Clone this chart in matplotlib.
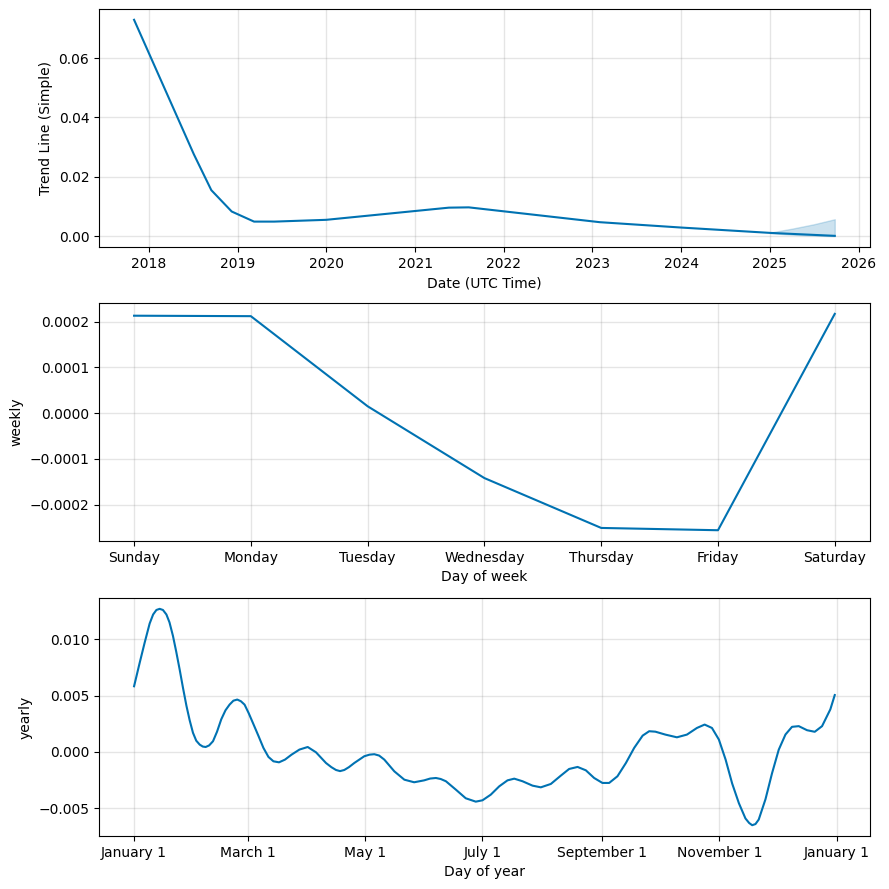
import pandas as pd
import numpy as np
import matplotlib
matplotlib.use("Agg")
import matplotlib.pyplot as plt
import matplotlib.dates as mdates
from matplotlib.ticker import FuncFormatter

# trend component
trend_dates = ["2017-11-01", "2018-07-05", "2018-09-15", "2018-12-08", "2019-03-10",
               "2019-06-01", "2020-01-01", "2021-05-20", "2021-08-10", "2023-02-01",
               "2024-01-01", "2025-01-01", "2025-09-25"]
trend_vals = [0.0729, 0.0276, 0.0155, 0.0083, 0.0049,
              0.0049, 0.0055, 0.0096, 0.0097, 0.0047,
              0.0029, 0.0011, 0.0001]

band_dates = ["2025-01-01", "2025-04-01", "2025-07-01", "2025-09-25"]
band_upper = [0.0012, 0.0025, 0.0040, 0.0057]
band_lower = [0.0010, 0.0005, 0.0002, 0.0000]

# weekly component
week_days = ["Sunday", "Monday", "Tuesday", "Wednesday", "Thursday", "Friday", "Saturday"]
weekly_vals = [0.000213, 0.000212, 0.0000150, -0.000142, -0.000251, -0.000256, 0.000217]

# yearly component, day offset from Jan 1
year_days = [0, 2.9, 5.5, 8.1, 9.9, 11.6, 13.3, 15.0, 16.8, 18.4, 20.2, 21.9, 23.7, 25.4,
             27.2, 28.9, 30.6, 32.3, 34.1, 35.7, 37.2, 39.0, 41.0, 43.1, 45.3, 47.5, 49.6,
             51.6, 53.6, 55.5, 57.4, 59.5, 62.1, 64.7, 67.2, 69.8, 72.4, 75.3, 78.4, 81.8,
             85.9, 90.2, 94.5, 99.7, 102.5, 104.9, 107.0, 109.2, 111.6, 114.4, 119.6,
             122.3, 124.8, 127.3, 130, 135.2, 140.4, 145.5, 150.7, 153.8, 156.8, 159.3, 162,
             167.2, 172.3, 177.5, 181,
             185.3, 189.7, 194, 197.5, 201.8, 207, 211.3, 216.5, 221.7, 226, 230.4, 234.7,
             239, 243.3, 246.8, 251.1, 255.5, 259.8, 264.2, 267.6, 270.8, 276, 282, 287.2,
             292.4, 296.4, 300.2, 303.8, 307.3, 310.7, 314.2, 317.6, 319.5, 321.1, 322.8,
             324.5, 328, 331.4, 334.9, 338.4, 341.8, 345.3, 349.6, 353.6, 357.4, 361.7, 364]
yearly_vals = [0.00583, 0.0079, 0.0097, 0.0114, 0.0122, 0.0126, 0.0127, 0.0126, 0.0122,
               0.0115, 0.0103, 0.0089, 0.0073, 0.0057, 0.0041, 0.0028, 0.0017, 0.0010,
               0.00065, 0.00048, 0.00044, 0.00058, 0.00095, 0.0018, 0.0029, 0.0037, 0.0042,
               0.00455, 0.00465, 0.00450, 0.0042, 0.00346, 0.00243, 0.00139, 0.00036,
               -0.00044, -0.00083, -0.00092, -0.00068, -0.00024, 0.00021, 0.00044, -0.00003,
               -0.00098, -0.00135, -0.00160, -0.00170, -0.00160, -0.00135, -0.00098,
               -0.00038, -0.00024, -0.00020, -0.00032, -0.00068, -0.00172, -0.00246,
               -0.00269, -0.00252, -0.00236, -0.00231, -0.00240, -0.0026, -0.00335, -0.00411,
               -0.00441, -0.00429,
               -0.00379, -0.00305, -0.00252, -0.00237, -0.0026, -0.00299, -0.00314, -0.00284,
               -0.0021, -0.00151, -0.00133, -0.00163, -0.00231, -0.00275, -0.00275, -0.00216,
               -0.00098, 0.00036, 0.00145, 0.00184, 0.0018, 0.00154, 0.0013, 0.00154, 0.00213,
               0.00243, 0.00213, 0.0011, -0.00068, -0.0028, -0.00455, -0.0059, -0.0063,
               -0.0065, -0.0064, -0.0060, -0.0042, -0.0019, 0.0002, 0.00155, 0.00223,
               0.00229, 0.00193, 0.00179, 0.00229, 0.00378, 0.00505]

col = "#0072B2"
fig = plt.figure(figsize=(8.89, 8.89), dpi=100)
ax1 = fig.add_axes([0.1114, 0.7222, 0.867, 0.2677])
ax2 = fig.add_axes([0.1114, 0.3914, 0.867, 0.2677])
ax3 = fig.add_axes([0.1114, 0.0596, 0.867, 0.2677])

def grid(ax):
    ax.grid(True, which="major", c="gray", ls="-", lw=1, alpha=0.2)

# trend
td = pd.to_datetime(trend_dates)
ax1.plot(td, trend_vals, ls="-", c=col)
ax1.fill_between(pd.to_datetime(band_dates), band_lower, band_upper, color=col, alpha=0.2)
ax1.xaxis.set_major_locator(mdates.YearLocator())
ax1.xaxis.set_major_formatter(mdates.DateFormatter("%Y"))
grid(ax1)
ax1.set_xlabel("Date (UTC Time)")
ax1.set_ylabel("Trend Line (Simple)")

# weekly
ax2.plot(range(len(week_days)), weekly_vals, ls="-", c=col)
ax2.set_xticks(range(len(week_days)))
ax2.set_xticklabels(week_days)
grid(ax2)
ax2.set_xlabel("Day of week")
ax2.set_ylabel("weekly")

# yearly
yd = pd.Timestamp("2017-01-01") + pd.to_timedelta(year_days, unit="D")
ax3.plot(yd, yearly_vals, ls="-", c=col)
ax3.xaxis.set_major_locator(mdates.MonthLocator(bymonth=range(1, 13, 2)))
ax3.xaxis.set_major_formatter(FuncFormatter(
    lambda x, pos: "{dt:%B} {dt.day}".format(dt=mdates.num2date(x))))
grid(ax3)
ax3.set_xlabel("Day of year")
ax3.set_ylabel("yearly")

fig.savefig("out.png", dpi=100)
